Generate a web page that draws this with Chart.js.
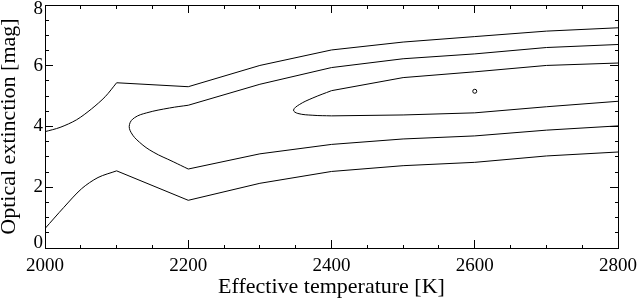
<!DOCTYPE html>
<html>
<head>
<meta charset="utf-8">
<script src="https://cdn.jsdelivr.net/npm/chart.js@4/dist/chart.umd.min.js"></script>
<style>
  html, body { margin: 0; padding: 0; background: #fff; }
  #wrap { width: 638px; height: 299px; }
</style>
</head>
<body>
<div id="wrap"><canvas id="contourChart" width="638" height="299"></canvas></div>
<script>
// tick labels
const xTickValues = [2000, 2200, 2400, 2600, 2800];
const xTickLabels = ['2000', '2200', '2400', '2600', '2800'];
const yTickValues = [0, 2, 4, 6, 8];
const yTickLabels = ['0', '2', '4', '6', '8'];

// contour lines (Teff [K], A_V [mag])
const outerUpperTeff = [2000, 2021, 2044, 2065, 2084, 2100, 2200, 2300, 2400, 2500, 2600, 2700, 2800];
const outerUpperAv   = [3.83, 3.97, 4.22, 4.58, 4.98, 5.44, 5.31, 6.01, 6.52, 6.78, 6.96, 7.14, 7.25];

const outerLowerTeff = [2000, 2026, 2051, 2074, 2100, 2200, 2300, 2400, 2500, 2600, 2700, 2800];
const outerLowerAv   = [0.64, 1.33, 1.95, 2.32, 2.54, 1.57, 2.13, 2.52, 2.71, 2.82, 3.03, 3.16];

const middleTeff = [2800, 2700, 2600, 2500, 2400, 2300, 2200, 2174, 2142, 2125, 2118, 2120, 2132, 2151, 2179, 2200, 2300, 2400, 2500, 2600, 2700, 2800];
const middleAv   = [6.70, 6.60, 6.39, 6.23, 5.94, 5.39, 4.70, 4.61, 4.45, 4.29, 4.07, 3.81, 3.48, 3.16, 2.84, 2.60, 3.10, 3.41, 3.59, 3.69, 3.88, 4.02];

const innerTeff = [2800, 2700, 2600, 2500, 2400, 2374, 2355, 2347, 2353, 2374, 2400, 2500, 2600, 2700, 2800];
const innerAv   = [6.09, 6.01, 5.80, 5.61, 5.18, 4.94, 4.72, 4.54, 4.43, 4.37, 4.35, 4.38, 4.45, 4.65, 4.83];

const minimumTeff = [2600];
const minimumAv   = [5.16];

const FONT = "'Liberation Serif', 'DejaVu Serif', serif";

function toPoints(xs, ys) {
  return xs.map((x, i) => ({ x: x, y: ys[i] }));
}

function labelFor(values, labels, v) {
  const i = values.indexOf(v);
  return i >= 0 ? labels[i] : '';
}

function isMajor(v, step) {
  const r = v / step;
  return Math.abs(r - Math.round(r)) < 1e-6;
}

// ticks drawn inwards; minor ones cut short with a dash pattern
function tickGrid(step, startsAtBorder) {
  return {
    display: true,
    drawOnChartArea: false,
    drawTicks: true,
    tickLength: -8,
    tickColor: '#000',
    tickWidth: 1,
    tickBorderDash: function(c) {
      if (!c.tick || isMajor(c.tick.value, step)) return [];
      return startsAtBorder ? [4, 40] : [0, 4, 4, 40];
    }
  };
}

function fixSize(prop, size) {
  return function(scale) {
    scale[prop] = size;
    scale.paddingLeft = 0;
    scale.paddingRight = 0;
    scale.paddingTop = 0;
    scale.paddingBottom = 0;
  };
}

const border = { display: true, color: '#000', width: 1 };

function line(points, tension) {
  return {
    data: points,
    showLine: true,
    borderColor: '#000',
    borderWidth: 1,
    pointRadius: 0,
    tension: tension,
    fill: false,
    xAxisID: 'x',
    yAxisID: 'y'
  };
}

// one contour: straight pieces, with the bent part [from..to] smoothed
function contour(xs, ys, from, to, tension) {
  const pts = toPoints(xs, ys);
  const out = [];
  if (from > 0) out.push(line(pts.slice(0, from + 1), 0));
  out.push(line(pts.slice(from, to + 1), tension));
  if (to < pts.length - 1) out.push(line(pts.slice(to), 0));
  return out;
}

const ctx = document.getElementById('contourChart').getContext('2d');
const chart = new Chart(ctx, {
  type: 'scatter',
  data: {
    datasets: [
      ...contour(outerUpperTeff, outerUpperAv, 0, 5, 0.3),
      ...contour(outerLowerTeff, outerLowerAv, 0, 4, 0.3),
      ...contour(middleTeff, middleAv, 6, 15, 0.4),
      ...contour(innerTeff, innerAv, 4, 10, 0.4),
      {
        data: toPoints(minimumTeff, minimumAv),
        showLine: false,
        pointStyle: 'circle',
        pointRadius: 2,
        pointBorderWidth: 1,
        pointBorderColor: '#000',
        pointBackgroundColor: 'rgba(0,0,0,0)',
        xAxisID: 'x',
        yAxisID: 'y'
      }
    ]
  },
  options: {
    responsive: false,
    animation: false,
    layout: { padding: 0 },
    plugins: {
      legend: { display: false },
      tooltip: { enabled: false }
    },
    scales: {
      x: {
        type: 'linear',
        position: 'bottom',
        min: 2000,
        max: 2800,
        ticks: {
          stepSize: 50,
          autoSkip: false,
          maxRotation: 0,
          minRotation: 0,
          padding: 15,
          color: '#000',
          font: { family: FONT, size: 19 },
          callback: v => labelFor(xTickValues, xTickLabels, v)
        },
        grid: tickGrid(200, true),
        border: border,
        title: {
          display: true,
          text: 'Effective temperature [K]',
          color: '#000',
          font: { family: FONT, size: 22 },
          padding: { top: 0, bottom: -1 }
        },
        afterFit: fixSize('height', 51)
      },
      xTop: {
        type: 'linear',
        position: 'top',
        min: 2000,
        max: 2800,
        ticks: { display: false, stepSize: 50, autoSkip: false },
        grid: tickGrid(200, false),
        border: border,
        afterFit: fixSize('height', 2)
      },
      y: {
        type: 'linear',
        position: 'left',
        min: 0,
        max: 8,
        ticks: {
          stepSize: 0.5,
          autoSkip: false,
          padding: 10,
          color: '#000',
          font: function(c) {
            const v = c.tick ? c.tick.value : -1;
            return { family: FONT, size: 19, lineHeight: (v === 0 || v === 8) ? '9px' : 1.2 };
          },
          callback: function(v) {
            const s = labelFor(yTickValues, yTickLabels, v);
            if (v === 8) return ['', s];
            if (v === 0) return [s, ''];
            return s;
          }
        },
        grid: tickGrid(2, false),
        border: border,
        title: {
          display: true,
          text: 'Optical extinction [mag]',
          color: '#000',
          font: { family: FONT, size: 22, lineHeight: 1 },
          padding: { top: -2, bottom: 0 }
        },
        afterFit: fixSize('width', 45)
      },
      yRight: {
        type: 'linear',
        position: 'right',
        min: 0,
        max: 8,
        ticks: { display: false, stepSize: 0.5, autoSkip: false },
        grid: tickGrid(2, true),
        border: border,
        afterFit: fixSize('width', 20)
      }
    }
  }
});
</script>
</body>
</html>
